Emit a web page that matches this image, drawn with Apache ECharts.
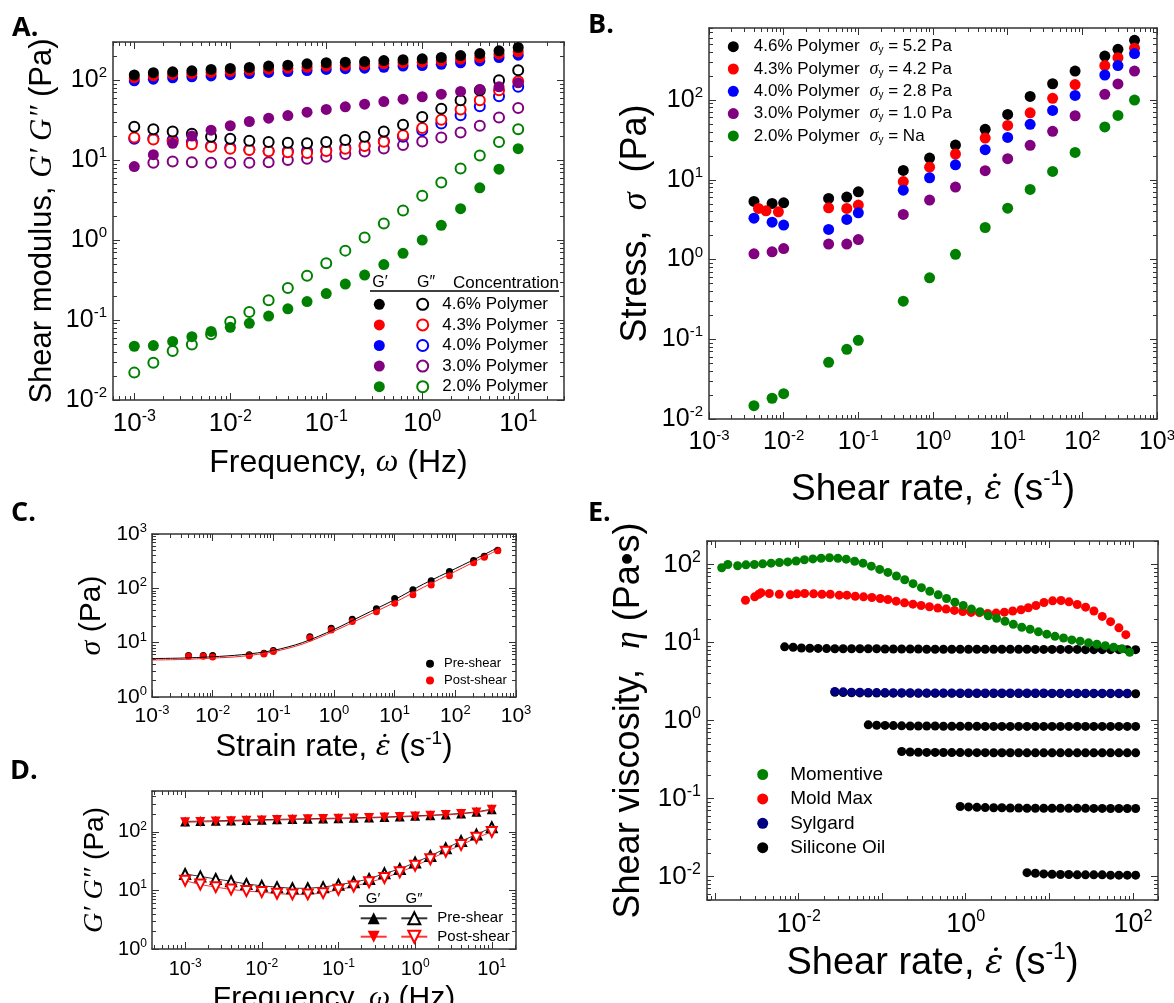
<!DOCTYPE html>
<html><head><meta charset="utf-8">
<script src="https://cdn.jsdelivr.net/npm/echarts@6/dist/echarts.min.js"></script>
<style>html,body{margin:0;padding:0;background:#fff}#c{width:1174px;height:1003px}</style>
</head><body><div id="c"></div>
<script>
// ---------- Panel A: oscillatory shear (G', G'') ----------
const aFreq = [0.001, 0.00158, 0.00251, 0.00398, 0.00631, 0.01, 0.0158, 0.0251, 0.0398, 0.0631, 0.1, 0.158, 0.251, 0.398, 0.631, 1, 1.58, 2.51, 3.98, 6.31, 10];
const aNames = ['4.6% Polymer', '4.3% Polymer', '4.0% Polymer', '3.0% Polymer', '2.0% Polymer'];
const aGp46 = [116, 124, 127, 131, 136, 140, 144, 150, 154, 160, 165, 168, 171, 176, 180, 185, 192, 203, 215, 233, 256];
const aGp43 = [107, 113, 118, 121, 125, 128, 133, 137, 141, 145, 150, 152, 155, 160, 165, 168, 174, 183, 192, 211, 226];
const aGp40 = [98, 103, 107, 110, 113, 117, 121, 125, 128, 132, 136, 139, 141, 145, 150, 152, 158, 165, 174, 192, 205];
const aGp30 = [8.3, 11.7, 16.2, 20, 23.7, 26.9, 30.4, 33.5, 36.1, 39.8, 43, 46.4, 50, 54, 57.9, 62, 66.8, 72.2, 76.4, 82.5, 92.6];
const aGp20 = [0.047, 0.048, 0.054, 0.062, 0.072, 0.081, 0.091, 0.112, 0.138, 0.17, 0.214, 0.282, 0.365, 0.494, 0.684, 1.0, 1.53, 2.47, 4.5, 7.7, 13.9];
const aGpp46 = [26.1, 24.4, 22.8, 21.3, 19.6, 18.5, 17.5, 16.8, 16.5, 16.2, 16.8, 17.9, 19.6, 22.8, 27.7, 34.5, 43.8, 56, 75, 100, 133];
const aGpp43 = [19.2, 18.1, 17.0, 15.8, 14.7, 13.9, 13.4, 12.9, 12.5, 12.3, 13.0, 13.9, 15.0, 17.0, 20.5, 25.2, 32, 43, 56, 75, 97];
const aGpp40 = [18.5, 18.7, 17.8, 16.8, 15, 14.4, 13.6, 13, 13, 13, 13.3, 14.4, 15.2, 17.3, 19.6, 23.7, 28.7, 36.5, 47.3, 63, 82.5];
const aGpp30 = [null, 9.3, 9.6, 9.4, 9.3, 9.3, 9.3, 9.4, 10, 10.4, 11, 11.9, 12.8, 14, 15.4, 17.1, 19.2, 22.2, 26.9, 34.1, 44.7];
const aGpp20 = [0.022, 0.0293, 0.0409, 0.0495, 0.0664, 0.0953, 0.126, 0.177, 0.252, 0.358, 0.514, 0.738, 1.08, 1.61, 2.35, 3.58, 5.26, 7.87, 11.4, 16.9, 24.4];

// ---------- Panel B: flow curves ----------
const bRate = [0.004, 0.007, 0.01, 0.04, 0.07, 0.1, 0.4, 0.9, 2, 5, 10, 20, 40, 80, 200, 300, 500];
const bRateRed = [0.0046, 0.0058, 0.0085, 0.04, 0.07, 0.1, 0.4, 0.9, 2, 5, 10, 20, 40, 80, 200, 300, 500];
const bYield = ['5.2 Pa', '4.2 Pa', '2.8 Pa', '1.0 Pa', 'Na'];
const bS46 = [5.35, 5.05, 5.14, 5.83, 6.06, 7.06, 13.1, 18.7, 27.2, 42.9, 66, 111, 160, 231, 356, 432, 561];
const bS43 = [4.37, 4.08, 3.96, 4.45, 4.37, 4.81, 9.5, 14.4, 21, 33.3, 48, 69, 105, 156, 270, 340, 446];
const bS40 = [3.3, 2.94, 2.7, 2.38, 3.18, 3.85, 7.4, 10.6, 15.4, 23.8, 34, 49.5, 74, 114, 206, 270, 382];
const bS30 = [1.18, 1.25, 1.37, 1.56, 1.56, 1.78, 3.67, 5.56, 8.1, 13, 18.4, 27, 40.5, 63.5, 118, 159, 231];
const bS20 = [0.0147, 0.0182, 0.0208, 0.0514, 0.0748, 0.097, 0.30, 0.589, 1.16, 2.52, 4.4, 7.57, 12.7, 22, 46, 64, 100];

// ---------- Panel C: pre/post shear flow curve ----------
const cRate = [0.004, 0.007, 0.01, 0.04, 0.07, 0.1, 0.4, 0.9, 2, 5, 10, 20, 40, 80, 200, 300, 500];
const cPre = [5.8, 5.8, 5.8, 6.0, 6.4, 7.2, 12.9, 18.4, 27, 42, 65, 94, 138, 205, 327, 388, 500];
const cPost = [5.6, 5.6, 5.45, 5.77, 6.2, 6.9, 12.2, 17.1, 24.4, 37.2, 53, 76, 115, 171, 296, 372, 493];
const cFitRate = [0.001, 0.003, 0.01, 0.03, 0.1, 0.3, 1, 3, 10, 30, 100, 300, 500];
const cFitPre = [5.1, 5.2, 5.5, 6.0, 7.2, 10, 17.5, 32, 62, 120, 230, 420, 560];
const cFitPost = [4.8, 4.9, 5.2, 5.6, 6.8, 9.4, 16.3, 29, 55, 105, 205, 380, 510];

// ---------- Panel D: pre/post shear moduli ----------
const dFreq = [0.001, 0.00158, 0.00251, 0.00398, 0.00631, 0.01, 0.0158, 0.0251, 0.0398, 0.0631, 0.1, 0.158, 0.251, 0.398, 0.631, 1, 1.58, 2.51, 3.98, 6.31, 10];
const dGpPre = [151, 153, 155, 157, 160, 162, 164, 166, 168, 170, 172, 174, 177, 180, 184, 188, 193, 199, 207, 220, 245];
const dGpPost = [146, 148, 150, 152, 155, 157, 160, 162, 164, 166, 168, 170, 173, 176, 180, 184, 189, 195, 203, 215, 238];
const dGppPre = [19.1, 17.4, 15.7, 14.4, 12.9, 12.0, 11.4, 10.9, 10.9, 11.4, 12.5, 13.8, 15.7, 19.6, 23.2, 30, 38.9, 52.4, 69.7, 90, 120];
const dGppPost = [14.7, 12.6, 11.4, 10.4, 9.75, 9.38, 8.8, 8.57, 8.57, 9.0, 10.3, 11.7, 13.8, 16.3, 20.4, 26.4, 34.2, 46, 59.6, 79.3, 100];

// ---------- Panel E: shear viscosity ----------
const eMomX = [0.0012, 0.00142, 0.00186, 0.00234, 0.00295, 0.00371, 0.00468, 0.00589, 0.00741, 0.00933, 0.0117, 0.0148, 0.0186, 0.0234, 0.0295, 0.0371, 0.0468, 0.0589, 0.0741, 0.0933, 0.117, 0.148, 0.186, 0.234, 0.295, 0.371, 0.468, 0.589, 0.741, 0.933, 1.17, 1.48, 1.86, 2.34, 2.95, 3.71, 4.68, 5.89, 7.41, 9.33, 11.7, 14.8, 18.6, 23.4, 29.5, 37.1, 46.8, 58.9, 74.1, 91.6];
const eMom = [90.7, 100, 96.2, 99, 100, 102, 104, 106, 108, 111, 115, 118, 120, 122, 120, 117, 110, 104, 95.2, 86.4, 79.1, 71.1, 63.8, 56.8, 50.5, 45.4, 40.8, 36.6, 32.9, 29.9, 26.8, 24.8, 22.0, 20.4, 18.7, 17.1, 15.7, 14.8, 13.7, 12.8, 12.0, 11.4, 10.8, 10.4, 9.9, 9.5, 9.1, 8.7, 8.3, 7.5];
const eMoldX = [0.00231, 0.00298, 0.00333, 0.00355, 0.00446, 0.00587, 0.00794, 0.00955, 0.0118, 0.0151, 0.019, 0.0239, 0.0306, 0.0378, 0.0476, 0.0598, 0.0752, 0.0946, 0.117, 0.147, 0.185, 0.233, 0.292, 0.368, 0.463, 0.582, 0.732, 0.921, 1.16, 1.46, 1.83, 2.31, 2.9, 3.65, 4.59, 5.61, 6.93, 8.64, 10.96, 13.8, 17.2, 21.6, 27.2, 34.2, 43, 54.1, 68.1, 82.4];
const eMold = [34.8, 38.5, 41.6, 43.3, 42.4, 41.6, 40.8, 42, 42.4, 42, 41.6, 41.6, 40.4, 40.4, 39.2, 38.5, 37.7, 36.6, 35.6, 33.9, 32.2, 31, 29.8, 28.7, 27.6, 26.8, 25.8, 25, 24.3, 24.1, 23.6, 23.8, 24.5, 25.3, 26.3, 27.9, 29.8, 32.6, 34.2, 34.5, 33.2, 30.7, 28.4, 25.3, 21.6, 18.5, 15.4, 12.6];
const eRate = [0.0068, 0.0086, 0.0108, 0.0136, 0.0171, 0.0216, 0.0271, 0.0341, 0.043, 0.0541, 0.0681, 0.0858, 0.108, 0.136, 0.171, 0.216, 0.271, 0.341, 0.43, 0.541, 0.681, 0.858, 1.08, 1.36, 1.71, 2.16, 2.71, 3.41, 4.3, 5.41, 6.81, 8.58, 10.8, 13.6, 17.1, 21.6, 27.1, 34.1, 43, 54.1, 68.1, 85.8, 108];
const eSyl = [2.36, 2.33, 2.31, 2.3, 2.29, 2.28, 2.28, 2.27, 2.27, 2.27, 2.26, 2.26, 2.26, 2.26, 2.26, 2.25, 2.25, 2.25, 2.25, 2.25, 2.25, 2.25, 2.25, 2.25, 2.25, 2.25, 2.24, 2.24, 2.24, 2.24, 2.24, 2.24, 2.24, 2.24, 2.24, 2.24];
const eOil1 = [8.8, 8.7, 8.5, 8.45, 8.4, 8.35, 8.3, 8.3, 8.3, 8.3, 8.3, 8.3, 8.25, 8.25, 8.25, 8.25, 8.25, 8.2, 8.2, 8.2, 8.2, 8.2, 8.2, 8.2, 8.2, 8.2, 8.2, 8.2, 8.2, 8.2, 8.15, 8.15, 8.15, 8.15, 8.15, 8.15, 8.1, 8.1, 8.1, 8.1, 8.1, 8.1, 8.1];
const eOil2 = [2.3, 2.28, 2.27, 2.26, 2.25, 2.25, 2.24, 2.24, 2.24, 2.23, 2.23, 2.23, 2.23, 2.23, 2.23, 2.22, 2.22, 2.22, 2.22, 2.22, 2.22, 2.22, 2.22, 2.22, 2.22, 2.22, 2.22, 2.21, 2.21, 2.21, 2.21, 2.21, 2.21, 2.21, 2.21, 2.2, 2.2];
const eOil3 = [0.88, 0.87, 0.865, 0.86, 0.855, 0.85, 0.85, 0.85, 0.85, 0.845, 0.845, 0.845, 0.845, 0.845, 0.84, 0.84, 0.84, 0.84, 0.84, 0.84, 0.84, 0.84, 0.84, 0.84, 0.84, 0.84, 0.84, 0.84, 0.84, 0.84, 0.84, 0.84, 0.84];
const eOil4 = [0.4, 0.395, 0.392, 0.39, 0.39, 0.389, 0.388, 0.388, 0.387, 0.387, 0.387, 0.386, 0.386, 0.386, 0.386, 0.385, 0.385, 0.385, 0.385, 0.385, 0.385, 0.385, 0.385, 0.385, 0.385, 0.385, 0.385, 0.385, 0.385];
const eOil5 = [0.079, 0.078, 0.077, 0.0765, 0.076, 0.076, 0.0755, 0.0755, 0.075, 0.075, 0.075, 0.075, 0.075, 0.0748, 0.0748, 0.0748, 0.0746, 0.0746, 0.0745, 0.0745, 0.0745, 0.0745];
const eOil6 = [0.0112, 0.011, 0.0108, 0.0107, 0.0106, 0.0106, 0.0105, 0.0105, 0.0105, 0.0105, 0.0104, 0.0104, 0.0104, 0.0104];

// ---------- styling / helpers ----------
const FONT = '"Liberation Sans", Arial, sans-serif';
const SERIF = '"Liberation Serif", "DejaVu Serif", serif';
const DV = '"DejaVu Serif", serif';
const FR = '#333';
const grids = [], xAxes = [], yAxes = [], series = [], legends = [], graphics = [];

function pairs(xs, ys) { const r = []; for (let i = 0; i < ys.length; i++) if (ys[i] != null) r.push([xs[i], ys[i]]); return r; }
function decades(a, b) { const r = []; for (let e = a; e <= b; e++) r.push(Number('1e' + e)); return r; }
function minors(a, b) { const r = []; for (let e = a; e <= b; e++) for (let m = 2; m <= 9; m++) r.push(Number(m + 'e' + e)); return r; }
function supLabel(v) { const e = Math.round(Math.log10(v)); return '{b|10}{e|' + e + '}'; }

function nameStyle(fs) {
  return { fontFamily: FONT, fontSize: fs, color: '#000', lineHeight: Math.round(fs * 1.2),
    rich: {
      i: { fontFamily: SERIF, fontStyle: 'italic', fontSize: fs, color: '#000', lineHeight: Math.round(fs * 1.2) },
      ep: { fontFamily: DV, fontStyle: 'italic', fontSize: Math.round(fs * 0.9), color: '#000', lineHeight: Math.round(fs * 1.2) },
      sup: { fontFamily: FONT, fontSize: Math.round(fs * 0.6), color: '#000', verticalAlign: 'top', lineHeight: Math.round(fs * 0.55) }
    } };
}

function panel(p) {
  const gi = grids.length;
  grids.push({ left: p.box[0], top: p.box[1], width: p.box[2], height: p.box[3], containLabel: false, outerBoundsMode: 'none' });
  const xi = xAxes.length, yi = yAxes.length;
  const base = (r) => ({ type: 'log', logBase: 10, gridIndex: gi, min: r[0], max: r[1], splitLine: { show: false }, splitArea: { show: false }, minorTick: { show: false }, silent: true });
  const line = (show) => ({ show: show, onZero: false, lineStyle: { color: FR, width: 1.5 } });
  const tick = (vals, len) => ({ show: true, inside: true, length: len, customValues: vals, lineStyle: { color: FR, width: 1 } });
  const lab = (vals, fs, margin) => ({ show: true, customValues: vals, formatter: supLabel, margin: margin,
    rich: { b: { fontFamily: FONT, fontSize: fs, color: '#000', lineHeight: Math.round(fs * 1.15) },
            e: { fontFamily: FONT, fontSize: Math.round(fs * 0.6), color: '#000', verticalAlign: 'top', lineHeight: Math.round(fs * 0.45) } } });
  ['bottom', 'top'].forEach((pos, k) => {
    const main = Object.assign(base(p.xr), { position: pos, axisLine: line(true), axisTick: tick(p.xMaj, 7), axisLabel: k === 0 ? lab(p.xLab, p.xfs, p.xm) : { show: false } });
    if (k === 0) Object.assign(main, { name: p.xName, nameLocation: 'middle', nameGap: p.xGap, nameTextStyle: nameStyle(p.xnfs) });
    xAxes.push(main);
    xAxes.push(Object.assign(base(p.xr), { position: pos, axisLine: line(false), axisTick: tick(p.xMin, 4), axisLabel: { show: false } }));
  });
  ['left', 'right'].forEach((pos, k) => {
    const main = Object.assign(base(p.yr), { position: pos, axisLine: line(true), axisTick: tick(p.yMaj, 7), axisLabel: k === 0 ? lab(p.yLab, p.yfs, p.ym) : { show: false } });
    if (k === 0) Object.assign(main, { name: p.yName, nameLocation: 'middle', nameGap: p.yGap, nameTextStyle: nameStyle(p.ynfs) });
    yAxes.push(main);
    yAxes.push(Object.assign(base(p.yr), { position: pos, axisLine: line(false), axisTick: tick(p.yMin, 4), axisLabel: { show: false } }));
  });
  return { x: xi, y: yi };
}

function scatter(ax, name, xs, ys, color, size, open) {
  series.push({ type: 'scatter', name: name, xAxisIndex: ax.x, yAxisIndex: ax.y, data: pairs(xs, ys),
    symbol: open ? 'emptyCircle' : 'circle', symbolSize: size, silent: true,
    itemStyle: open ? { color: color, borderColor: color, borderWidth: 2, opacity: 1 } : { color: color, borderWidth: 0, opacity: 1 } });
}

// ---------- Panel A ----------
const axA = panel({ box: [113, 42, 451, 358], xr: [0.0006, 30], yr: [0.01, 300],
  xMaj: decades(-3, 1), xMin: minors(-4, 1), xLab: decades(-3, 1), xfs: 26, xm: 9,
  yMaj: decades(-2, 2), yMin: minors(-2, 2), yLab: decades(-2, 2), yfs: 25, ym: 6,
  xName: 'Frequency, {i|ω} (Hz)', xGap: 44, xnfs: 32,
  yName: 'Shear modulus, {i|G′ G″} (Pa)', yGap: 52, ynfs: 31 });
const aColors = ['#000000', '#ff0000', '#0000ff', '#800080', '#008000'];
const aGpp = [aGpp46, aGpp43, aGpp40, aGpp30, aGpp20];
const aGp = [aGp46, aGp43, aGp40, aGp30, aGp20];
for (let k = 4; k >= 0; k--) scatter(axA, 'G″ ' + aNames[k], aFreq, aGpp[k], aColors[k], 10, true);
for (let k = 4; k >= 0; k--) scatter(axA, 'G′ ' + aNames[k], aFreq, aGp[k], aColors[k], 11, false);
legends.push({ orient: 'vertical', left: 373.8, top: 295.8, padding: 0, itemWidth: 11, itemHeight: 11, itemGap: 3.6,
  selectedMode: false, data: aNames.map(n => 'G′ ' + n), formatter: () => ' ',
  textStyle: { fontFamily: FONT, fontSize: 17, color: '#000' } });
legends.push({ orient: 'vertical', left: 416.2, top: 295.8, padding: 0, itemWidth: 11, itemHeight: 11, itemGap: 3.6,
  selectedMode: false, data: aNames.map(n => 'G″ ' + n), formatter: n => n.slice(3),
  textStyle: { fontFamily: FONT, fontSize: 17, color: '#000', padding: [0, 0, 0, 9] } });
graphics.push({ type: 'text', x: 380, y: 283, style: { text: 'G′', font: '16px ' + FONT, fill: '#000', align: 'center', verticalAlign: 'middle' } });
graphics.push({ type: 'text', x: 426, y: 283, style: { text: 'G″', font: '16px ' + FONT, fill: '#000', align: 'center', verticalAlign: 'middle' } });
graphics.push({ type: 'text', x: 453, y: 283, style: { text: 'Concentration', font: '17px ' + FONT, fill: '#000', align: 'left', verticalAlign: 'middle' } });
graphics.push({ type: 'line', shape: { x1: 370, y1: 291, x2: 559, y2: 291 }, style: { stroke: '#000', lineWidth: 1.5 } });

// ---------- Panel B ----------
const axB = panel({ box: [709, 28, 448, 391], xr: [0.001, 1000], yr: [0.01, 800],
  xMaj: decades(-3, 3), xMin: minors(-3, 2), xLab: decades(-3, 3), xfs: 25, xm: 9,
  yMaj: decades(-2, 2), yMin: minors(-2, 2), yLab: decades(-2, 2), yfs: 25, ym: 6,
  xName: 'Shear rate, {ep|ε̇} (s{sup|-1})', xGap: 49, xnfs: 37,
  yName: 'Stress,  {i|σ}  (Pa)', yGap: 48, ynfs: 36 });
const bS = [bS46, bS43, bS40, bS30, bS20];
for (let k = 0; k < 5; k++) scatter(axB, aNames[k], k === 1 ? bRateRed : bRate, bS[k], aColors[k], 11, false);
legends.push({ orient: 'vertical', left: 727.8, top: 37.7, padding: 0, itemWidth: 11, itemHeight: 11, itemGap: 4.3,
  selectedMode: false, data: aNames.slice(),
  formatter: n => '{t|' + n + '}   {g|σ}{s|y}{t| = ' + bYield[aNames.indexOf(n)] + '}',
  textStyle: { padding: [0, 0, 0, 10], lineHeight: 18, rich: {
    t: { fontFamily: FONT, fontSize: 17, color: '#000', lineHeight: 18 },
    g: { fontFamily: SERIF, fontStyle: 'italic', fontSize: 18, color: '#000', lineHeight: 18 },
    s: { fontFamily: FONT, fontSize: 10, color: '#000', verticalAlign: 'bottom', lineHeight: 6 } } } });

// ---------- Panel C ----------
const axC = panel({ box: [152, 534, 364, 163], xr: [0.001, 1000], yr: [1, 1000],
  xMaj: decades(-3, 3), xMin: minors(-3, 2), xLab: decades(-3, 3), xfs: 21, xm: 7,
  yMaj: decades(0, 3), yMin: minors(0, 2), yLab: decades(0, 3), yfs: 21, ym: 5,
  xName: 'Strain rate, {ep|ε̇} (s{sup|-1})', xGap: 32, xnfs: 31,
  yName: '{i|σ} (Pa)', yGap: 42, ynfs: 30 });
series.push({ type: 'line', name: 'Pre-shear fit', xAxisIndex: axC.x, yAxisIndex: axC.y, data: pairs(cFitRate, cFitPre), showSymbol: false, smooth: 0.3, silent: true, lineStyle: { color: '#000', width: 1 } });
series.push({ type: 'line', name: 'Post-shear fit', xAxisIndex: axC.x, yAxisIndex: axC.y, data: pairs(cFitRate, cFitPost), showSymbol: false, smooth: 0.3, silent: true, lineStyle: { color: '#ff2020', width: 1 } });
scatter(axC, 'Pre-shear', cRate, cPre, '#000000', 7, false);
scatter(axC, 'Post-shear', cRate, cPost, '#ff0000', 7, false);
legends.push({ orient: 'vertical', left: 426, top: 657.3, padding: 0, itemWidth: 8, itemHeight: 8, itemGap: 3.7,
  selectedMode: false, data: ['Pre-shear', 'Post-shear'],
  textStyle: { fontFamily: FONT, fontSize: 13, color: '#000', padding: [0, 0, 0, 5] } });

// ---------- Panel D ----------
const axD = panel({ box: [152, 791, 364, 158], xr: [0.00037, 20.7], yr: [1, 500],
  xMaj: decades(-3, 1), xMin: minors(-4, 1), xLab: decades(-3, 1), xfs: 20, xm: 9,
  yMaj: decades(0, 2), yMin: minors(0, 2), yLab: decades(0, 2), yfs: 20, ym: 5,
  xName: 'Frequency, {i|ω} (Hz)', xGap: 26, xnfs: 30,
  yName: '{i|G′ G″} (Pa)', yGap: 40, ynfs: 28 });
function dLine(name, ys, color, symbol, rot) {
  const open = symbol.indexOf('empty') === 0;
  series.push({ type: 'line', name: name, xAxisIndex: axD.x, yAxisIndex: axD.y, data: pairs(dFreq, ys), silent: true,
    symbol: symbol, symbolSize: 10, symbolRotate: rot, showAllSymbol: true,
    lineStyle: { color: color, width: 1, opacity: 0.8 },
    itemStyle: open ? { color: color, borderColor: color, borderWidth: 1.5 } : { color: color, borderWidth: 0 } });
}
dLine('Pre-shear G″', dGppPre, '#000000', 'emptyTriangle', 0);
dLine('Post-shear G″', dGppPost, '#ff0000', 'emptyTriangle', 180);
dLine('Pre-shear G′', dGpPre, '#000000', 'triangle', 0);
dLine('Post-shear G′', dGpPost, '#ff0000', 'triangle', 180);
legends.push({ orient: 'vertical', left: 359.7, top: 910.8, padding: 0, itemWidth: 26, itemHeight: 15, itemGap: 3.4,
  selectedMode: false, data: ['Pre-shear G′', 'Post-shear G′'], formatter: () => ' ',
  textStyle: { fontFamily: FONT, fontSize: 15, color: '#000' } });
legends.push({ orient: 'vertical', left: 400.3, top: 910.8, padding: 0, itemWidth: 26, itemHeight: 15, itemGap: 3.4,
  selectedMode: false, data: ['Pre-shear G″', 'Post-shear G″'], formatter: n => n.replace(' G″', ''),
  textStyle: { fontFamily: FONT, fontSize: 15, color: '#000', padding: [0, 0, 0, 5] } });
graphics.push({ type: 'text', x: 373, y: 899, style: { text: 'G′', font: '15px ' + FONT, fill: '#000', align: 'center', verticalAlign: 'middle' } });
graphics.push({ type: 'text', x: 414, y: 899, style: { text: 'G″', font: '15px ' + FONT, fill: '#000', align: 'center', verticalAlign: 'middle' } });
graphics.push({ type: 'line', shape: { x1: 359, y1: 906, x2: 432, y2: 906 }, style: { stroke: '#000', lineWidth: 1.5 } });

// ---------- Panel E ----------
const axE = panel({ box: [707, 541, 451, 359], xr: [0.0008, 200], yr: [0.005, 200],
  xMaj: decades(-3, 2), xMin: minors(-4, 2), xLab: [0.01, 1, 100], xfs: 27, xm: 9,
  yMaj: decades(-2, 2), yMin: minors(-3, 2), yLab: decades(-2, 2), yfs: 26, ym: 6,
  xName: 'Shear rate, {ep|ε̇} (s{sup|-1})', xGap: 41, xnfs: 38,
  yName: 'Shear viscosity,  {i|η} (Pa•s)', yGap: 56, ynfs: 36 });
const eOils = [[eOil1, 0], [eOil2, 6], [eOil3, 10], [eOil4, 14], [eOil5, 21], [eOil6, 29]];
eOils.forEach(o => scatter(axE, 'Silicone Oil', eRate.slice(o[1]), o[0], '#000000', 9, false));
scatter(axE, 'Sylgard', eRate.slice(6), eSyl, '#000080', 9, false);
scatter(axE, 'Mold Max', eMoldX, eMold, '#ff0000', 9, false);
scatter(axE, 'Momentive', eMomX, eMom, '#008000', 9, false);
legends.push({ orient: 'vertical', left: 757.2, top: 765, padding: 0, itemWidth: 11, itemHeight: 11, itemGap: 5.4,
  selectedMode: false, data: ['Momentive', 'Mold Max', 'Sylgard', 'Silicone Oil'],
  textStyle: { fontFamily: FONT, fontSize: 19, lineHeight: 18, color: '#000', padding: [0, 0, 0, 17] } });

// ---------- panel letters ----------
[['A.', 12, 15], ['B.', 588, 12], ['C.', 11, 500], ['D.', 10, 758], ['E.', 588, 500]].forEach(t =>
  graphics.push({ type: 'text', x: t[1], y: t[2], style: { text: t[0], font: 'bold 27px "Open Sans", sans-serif', fill: '#000', align: 'left', verticalAlign: 'top' } }));

const chart = echarts.init(document.getElementById('c'), null, { renderer: 'canvas' });
chart.setOption({
  backgroundColor: '#ffffff', animation: false, tooltip: { show: false },
  grid: grids, xAxis: xAxes, yAxis: yAxes, series: series, legend: legends, graphic: graphics
});
</script></body></html>
